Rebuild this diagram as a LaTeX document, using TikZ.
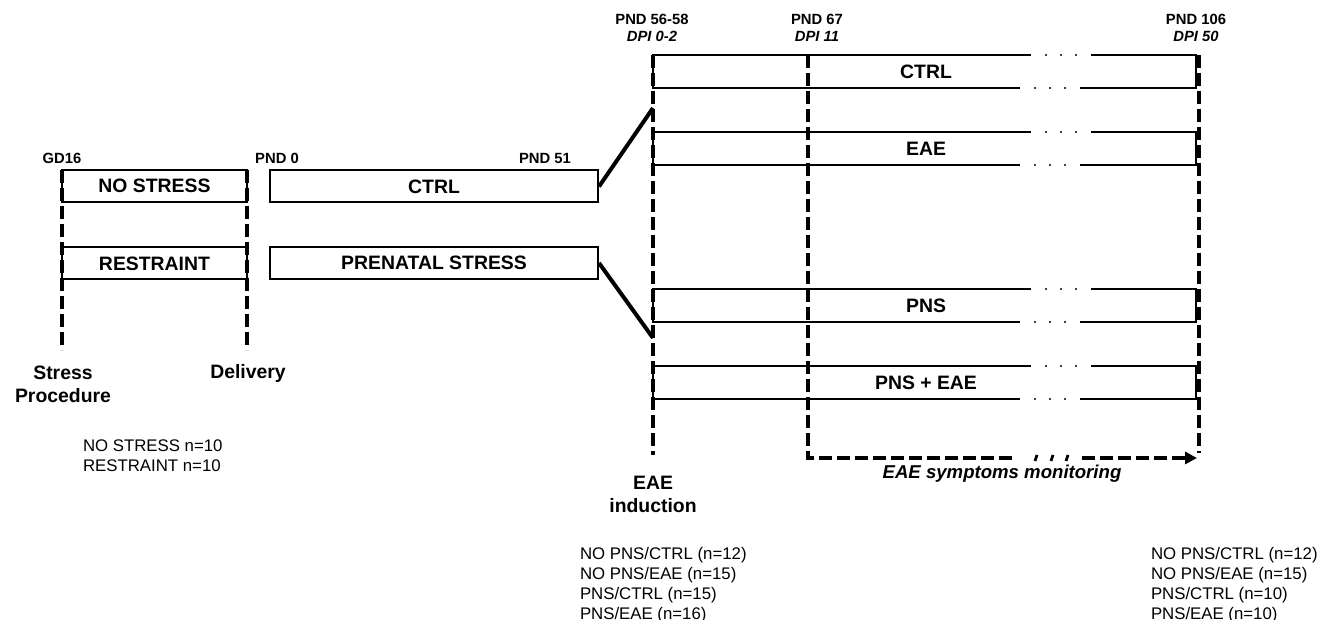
\documentclass[tikz,border=0pt]{standalone}
\usepackage{fontspec}
\setmainfont{Liberation Sans}
\usetikzlibrary{arrows.meta, positioning}
\tikzset{
  every picture/.style={line width=1pt},
  grp/.style={draw, line width=1pt, minimum height=16pt, inner sep=0pt, font=\fontsize{9.7}{11.5}\selectfont\bfseries},
  lbl/.style={font=\fontsize{9.7}{11.5}\selectfont\bfseries, align=center, inner sep=0pt},
  day/.style={font=\fontsize{7.4}{8.5}\selectfont\bfseries, align=center, inner sep=0pt},
  count/.style={font=\fontsize{8.4}{10}\selectfont, align=left, inner sep=0pt, anchor=north west},
  phase/.style={line width=2pt, dash pattern=on 6.5pt off 2.5pt},
  link/.style={line width=2pt},
}

\begin{document}
\begin{tikzpicture}[x=0.5pt, y=-0.5pt]
  \useasboundingbox (0,0) rectangle (1317,620);

  % prenatal part
  \node[grp, minimum width=92.5pt] (nostress) at (154.5,186) {NO STRESS};
  \node[grp, minimum width=92.5pt] (restraint) at (154.5,263.5) {RESTRAINT};
  \node[grp, minimum width=164pt] (ctrl) at (434,186.5) {CTRL};
  \node[grp, minimum width=164pt] (pns) at (434,263) {PRENATAL STRESS};
  \draw[phase] (62,170) -- (62,350);
  \draw[phase] (247,170) -- (247,350);
  \node[day] (gd16) at (62,158) {GD16};
  \node[day] (pnd0) at (277,158) {PND 0};
  \node[day] (pnd51) at (545,158) {PND 51};
  \node[lbl] (stressproc) at (63,384.5) {Stress\\Procedure};
  \node[lbl] (delivery) at (248,373) {Delivery};
  \node[count] (nprenatal) at (82,439) {NO STRESS n=10\\RESTRAINT n=10};

  % EAE part
  \foreach \yt/\txt/\nm in {55/CTRL/rctrl, 132/EAE/reae, 289/PNS/rpns, 366/PNS + EAE/rboth} {
    \pgfmathsetmacro{\yb}{\yt+33}
    \draw (1031,\yt) -| (653,\yb) -- (1020,\yb);
    \draw (1091,\yt) -| (1196,\yb) -- (1080,\yb);
    \foreach \d in {15,30,45} {
      \fill (1031+\d,\yt) circle[radius=0.6pt];
      \fill (1020+\d,\yb) circle[radius=0.6pt];
    }
    \node[lbl] (\nm) at (926,\yt+16.5) {\txt};
  }
  \coordinate (indtop) at (653,55);
  \coordinate (indbot) at (653,455);
  \coordinate (inctrl) at (653,108);
  \coordinate (inpns) at (653,338);
  \draw[phase] (indtop) -- (indbot);
  \draw[link] (ctrl.east) -- (inctrl);
  \draw[link] (pns.east) -- (inpns);
  \draw[phase] (808,55) |- (1015,458);
  \foreach \d in {1036,1052,1067}
    \draw[line width=1.4pt] (\d-1,461) -- (\d+1,455);
  \draw[phase, -{Triangle[length=6pt, width=6pt]}] (1082,458) -- (1197,458);
  \draw[phase] (1199,55) -- (1199,453);

  \node[day] (d5658) at (652,28) {PND 56-58\\\textit{DPI 0-2}};
  \node[day] (d67) at (817,28) {PND 67\\\textit{DPI 11}};
  \node[day] (d106) at (1196,28) {PND 106\\\textit{DPI 50}};
  \node[lbl] (induction) at (653,494.5) {EAE\\induction};
  \node[lbl, font=\fontsize{9.3}{11}\selectfont\bfseries\itshape] (monitor) at (1002,474) {EAE symptoms monitoring};
  \node[count] (nstart) at (579,546) {NO PNS/CTRL (n=12)\\NO PNS/EAE (n=15)\\PNS/CTRL (n=15)\\PNS/EAE (n=16)};
  \node[count] (nend) at (1150,546) {NO PNS/CTRL (n=12)\\NO PNS/EAE (n=15)\\PNS/CTRL (n=10)\\PNS/EAE (n=10)};
\end{tikzpicture}
\end{document}
